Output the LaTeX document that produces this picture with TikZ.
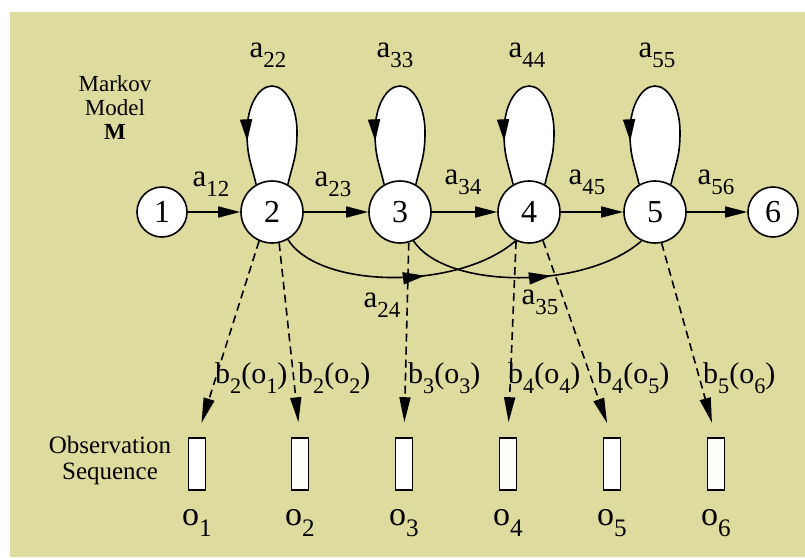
\documentclass[tikz,border=0pt]{standalone}
\usepackage{fontspec}
\usepackage{graphicx}
\setmainfont{Liberation Serif}
\usetikzlibrary{arrows.meta,decorations.markings,calc,backgrounds}
\definecolor{khaki}{RGB}{221,219,158}
\newcommand\lsub[1]{\raisebox{-0.32em}{\scalebox{0.74}{#1}}}
\tikzset{
  st/.style={circle,draw,fill=white,line width=1.6pt,inner sep=0pt,minimum size=62pt,font=\fontsize{32}{34}\selectfont},
  sst/.style={st,minimum size=50pt},
  obs/.style={rectangle,draw,fill=white,line width=1.6pt,inner sep=0pt,minimum width=17pt,minimum height=52pt},
  lbl/.style={inner sep=0pt,font=\fontsize{31}{33}\selectfont},
  blbl/.style={inner sep=0pt,anchor=west,font=\fontsize{30}{32}\selectfont},
  olbl/.style={inner sep=0pt,font=\fontsize{34}{36}\selectfont},
  side/.style={inner sep=0pt,align=center,font=\fontsize{23}{24}\selectfont},
  side2/.style={inner sep=0pt,align=center,font=\fontsize{25}{26}\selectfont},
  tip/.style={-{Triangle[length=22pt,width=11pt]}},
  arr/.style={line width=1.6pt,tip},
  darr/.style={line width=1.6pt,dash pattern=on 8pt off 5pt,-{Triangle[length=25pt,width=11pt]},shorten >=15pt},
  midarr/.style={line width=1.6pt,postaction={decorate},decoration={markings,mark=at position #1 with {\arrow{Triangle[length=22pt,width=12pt]}}}},
  loopst/.style={midarr=0.8,fill=white},
}
\begin{document}
\begin{tikzpicture}[x=1pt,y=-1pt]
\useasboundingbox (0,0) rectangle (805,557);
% states
\node[sst] (n1) at (162,212) {1};
\node[st] (n2) at (272,212) {2};
\node[st] (n3) at (400,212) {3};
\node[st] (n4) at (529,212) {4};
\node[st] (n5) at (655,212) {5};
\node[sst] (n6) at (773,212) {6};
\begin{pgfonlayer}{background}
\fill[white] (0,0) rectangle (805,557);
\fill[khaki] (10,12) rectangle (805,557);
% self loops
\foreach \n in {n2,n3,n4,n5}{
  \draw[loopst] (\n.60) .. controls +(5,-22) and +(0,25) .. ($(\n)+(25,-80)$)
    .. controls +(0,-25) and +(14,0) .. ($(\n)+(0,-126)$)
    .. controls +(-14,0) and +(0,-25) .. ($(\n)+(-25,-80)$)
    .. controls +(0,25) and +(-5,-22) .. (\n.120);
}
\end{pgfonlayer}
% forward arrows
\draw[arr] (n1) -- (n2);
\draw[arr] (n2) -- (n3);
\draw[arr] (n3) -- (n4);
\draw[arr] (n4) -- (n5);
\draw[arr] (n5) -- (n6);
% skip arcs
\draw[midarr=0.6] (n2.-60) .. controls (320,290) and (460,290) .. (n4.-115);
\draw[midarr=0.6] (n3.-65) .. controls (446,290) and (586,290) .. (n5.-115);
% observation boxes
\node[obs] (r1) at (197,464) {};
\node[obs] (r2) at (300,464) {};
\node[obs] (r3) at (404,464) {};
\node[obs] (r4) at (508,464) {};
\node[obs] (r5) at (612,464) {};
\node[obs] (r6) at (716,464) {};
% emission arrows
\draw[darr] (n2.-114) -- (r1.north);
\draw[darr] (n2.-77) -- (r2.north);
\draw[darr] (n3.-74) -- (r3.north);
\draw[darr] (n4.-114) -- (r4.north);
\draw[darr] (n4.-64) -- (r5.north);
\draw[darr] (n5.-78) -- (r6.north);
% transition labels
\node[lbl] (l12) at (211,184) {a\lsub{12}};
\node[lbl] (l23) at (333,184) {a\lsub{23}};
\node[lbl] (l34) at (463,182) {a\lsub{34}};
\node[lbl] (l45) at (587,182) {a\lsub{45}};
\node[lbl] (l56) at (716,182) {a\lsub{56}};
\node[lbl] (l22) at (268,55) {a\lsub{22}};
\node[lbl] (l33) at (395,55) {a\lsub{33}};
\node[lbl] (l44) at (527,55) {a\lsub{44}};
\node[lbl] (l55) at (657,55) {a\lsub{55}};
\node[lbl] (l24) at (382,305) {a\lsub{24}};
\node[lbl] (l35) at (540,302) {a\lsub{35}};
% emission labels
\node[blbl] (b1) at (215,378) {b\lsub{2}(o\lsub{1})};
\node[blbl] (b2) at (298,378) {b\lsub{2}(o\lsub{2})};
\node[blbl] (b3) at (408,378) {b\lsub{3}(o\lsub{3})};
\node[blbl] (b4) at (508,378) {b\lsub{4}(o\lsub{4})};
\node[blbl] (b5) at (597,378) {b\lsub{4}(o\lsub{5})};
\node[blbl] (b6) at (703,378) {b\lsub{5}(o\lsub{6})};
% observation labels
\node[olbl] (o1) at (197,523) {o\lsub{1}};
\node[olbl] (o2) at (300,523) {o\lsub{2}};
\node[olbl] (o3) at (404,523) {o\lsub{3}};
\node[olbl] (o4) at (508,523) {o\lsub{4}};
\node[olbl] (o5) at (612,523) {o\lsub{5}};
\node[olbl] (o6) at (716,523) {o\lsub{6}};
% side texts
\node[side] (mm) at (115,108) {Markov\\Model\\\textbf{M}};
\node[side2] (os) at (110,460) {Observation\\Sequence};
\end{tikzpicture}
\end{document}
